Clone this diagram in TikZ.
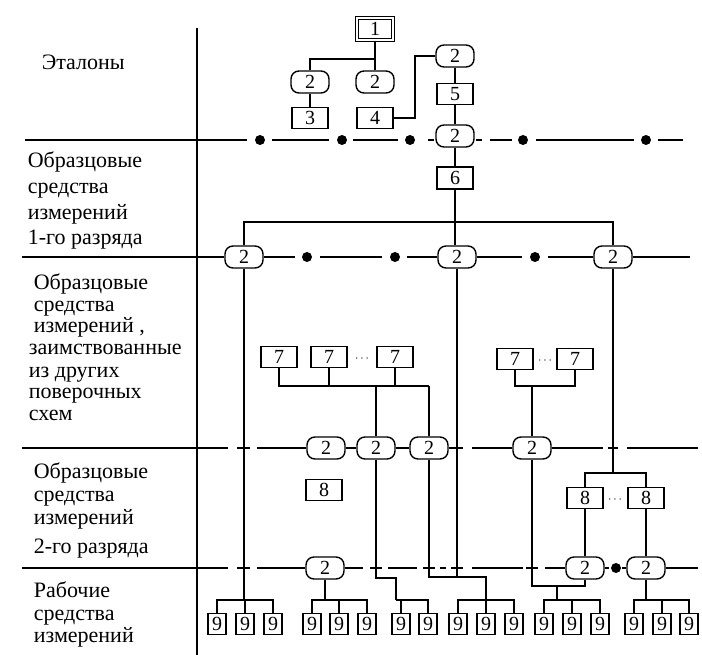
\documentclass[tikz,border=0pt]{standalone}
\usepackage{fontspec}
\setmainfont{Liberation Serif}
\usetikzlibrary{calc}

\begin{document}
\begin{tikzpicture}[x=1pt, y=-1pt, line width=1.7pt,
  box/.style={draw, line width=1.4pt, minimum width=36pt, minimum height=21pt, inner sep=0pt, font=\fontsize{20}{20}\selectfont},
  rbox/.style={box, rounded corners=8pt, minimum width=38pt, minimum height=22pt},
  nbox/.style={box, minimum width=18pt},
  dot/.style={circle, fill, inner sep=0pt, minimum size=10pt},
  lbl/.style={anchor=base west, inner sep=0pt, font=\fontsize{22}{22}\selectfont},
  more/.style={inner sep=0pt, font=\fontsize{12}{12}\selectfont}]
			%%%%% START %%%%%
			\useasboundingbox (0,0) rectangle (702,655);
			
			\draw (197,28) -- (197,655);
			
			% left column
			\node[lbl] (t-eta) at (41,70) {Эталоны};
			\foreach \y/\t in {168/Образцовые, 194/средства, 220/измерений, 245/1-го разряда}
				\node[lbl] (t-a\y) at (27,\y) {\t};
			\foreach \y/\t in {290/Образцовые, 312/средства, 333/{измерений ,}}
				\node[lbl] (t-b\y) at (33,\y) {\t};
			\foreach \y/\t in {355/заимствованные, 377/из других, 398/поверочных, 420/схем}
				\node[lbl] (t-b\y) at (28,\y) {\t};
			\foreach \y/\t in {478/Образцовые, 501/средства, 524/измерений, 553/2-го разряда}
				\node[lbl] (t-c\y) at (33,\y) {\t};
			\foreach \y/\t in {597/Рабочие, 620/средства, 642/измерений}
				\node[lbl] (t-d\y) at (33,\y) {\t};
			
			% etalons
			\node[box, double, double distance=2.5pt, line width=1.2pt, minimum height=22pt] (b1) at (375,29) {1};
			\node[rbox] (e2a) at (310,82) {2};
			\node[rbox] (e2b) at (375,82) {2};
			\node[box] (b3) at (310,118) {3};
			\node[box] (b4) at (375,118) {4};
			\node[rbox] (e2c) at (455,56) {2};
			\node[box] (b5) at (455,94) {5};
			\node[rbox] (l1c) at (455,136) {2};
			\node[box, minimum width=36pt, minimum height=22pt] (b6) at (455,178) {6};
			
			\coordinate (j1) at (375,59);
			\draw (b1) -- (e2b);
			\draw (e2a) |- (j1);
			\draw (e2a) -- (b3);
			\draw (b4.east) -- ++(21,0) |- (e2c);
			\draw (e2c) -- (b5) -- (l1c) -- (b6);
			
			% line 1
			\foreach \a/\b in {25/247, 272/329, 353/398, 490/512, 536/634, 658/683, 428/434, 476/482}
				\draw (\a,140) -- (\b,140);
			\foreach \x in {260,342,410,523,646}
				\node[dot] (d1-\x) at (\x,140) {};
			
			% line 2
			\node[rbox] (l2a) at (244,257) {2};
			\node[rbox] (l2b) at (457,257) {2};
			\node[rbox] (l2c) at (613,257) {2};
			\draw (b6) -- (b6 |- l2b.north);
			\draw (22,257) -- (l2a);
			\draw (l2a) -- (295,257);
			\draw (320,257) -- (382,257);
			\draw (407,257) -- (l2b);
			\draw (l2b) -- (522,257);
			\draw (548,257) -- (l2c);
			\draw (l2c) -- (690,257);
			\foreach \x in {307,395,535}
				\node[dot] (d2-\x) at (\x,257) {};
			\coordinate (s6) at (455,222);
			\draw (l2a) |- (s6) -| (l2c);
			
			% 7
			\node[box] (b7a) at (279,357) {7};
			\node[box] (b7b) at (329,357) {7};
			\node[box] (b7c) at (395,357) {7};
			\node[more] (p7a) at (362,359) {$\cdots$};
			\node[box] (b7d) at (515,359) {7};
			\node[box] (b7e) at (575,359) {7};
			\node[more] (p7b) at (545,361) {$\cdots$};
			
			% line 3
			\node[rbox] (l3a) at (326,448) {2};
			\node[rbox] (l3b) at (376,448) {2};
			\node[rbox] (l3c) at (429,448) {2};
			\node[rbox] (l3d) at (532,448) {2};
			\foreach \a/\b in {22/228, 237/250, 451/463, 608/618, 627/698}
				\draw (\a,448) -- (\b,448);
			\draw (257,448) -- (l3a);
			\draw (l3a) -- (l3b);
			\draw (l3b) -- (l3c);
			\draw (l3c.east) -- +(4,0);
			\draw (472,448) -- (l3d);
			\draw (l3d) -- (603,448);
			
			\coordinate (k7) at (429,386);
			\draw (b7a) |- (k7);
			\draw (b7b) |- (k7);
			\draw (b7c) |- (k7);
			\draw (l3c) -- (k7);
			\draw (l3b) -- (l3b |- k7);
			\coordinate (k7r) at (532,386);
			\draw (b7d) |- (k7r);
			\draw (b7e) |- (k7r);
			\draw (l3d) -- (k7r);
			
			% 8
			\node[box] (b8a) at (324,490) {8};
			\node[box] (b8b) at (585,498) {8};
			\node[box] (b8c) at (646,498) {8};
			\node[more] (p8) at (615,500) {$\cdots$};
			\coordinate (k8) at (613,473);
			\draw (l2c) -- (k8);
			\draw (b8b) |- (k8);
			\draw (b8c) |- (k8);
			
			% line 4
			\node[rbox] (l4a) at (325,568) {2};
			\node[rbox] (l4b) at (585,568) {2};
			\node[rbox] (l4c) at (646,568) {2};
			\node[dot] (d4) at (616,568) {};
			\foreach \a/\b in {22/228, 237/250, 370/382, 388/417, 423/435, 440/446, 451/463, 472/523, 526/538}
				\draw (\a,568) -- (\b,568);
			\draw (257,568) -- (l4a);
			\draw (l4a) -- (363,568);
			\draw (545,568) -- (l4b);
			\draw (l4b.east) -- +(4,0);
			\draw (l4c.west) -- +(-4,0);
			\draw (l4c) -- (698,568);
			\draw (b8b) -- (l4b);
			\draw (b8c) -- (l4c);
			
			% working instruments
			\foreach \x [count=\i] in {217,245,273,312,339,367,401,428,458,486,514,544,572,600,634,662,689}
				\node[nbox] (n\i) at (\x,624) {9};
			
			\coordinate (g1) at (244,600);
			\draw (l2a) -- (g1);
			\foreach \i in {1,2,3} \draw (n\i) |- (g1);
			
			\coordinate (g2) at (325,600);
			\draw (l4a) -- (g2);
			\foreach \i in {4,5,6} \draw (n\i) |- (g2);
			
			\coordinate (k3) at (396,578);
			\coordinate (g3) at (396,600);
			\draw (l3b) |- (k3) -- (g3);
			\foreach \i in {7,8} \draw (n\i) |- (g3);
			
			\coordinate (k4) at (486,577);
			\coordinate (g4) at (486,600);
			\draw (l3c) |- (k4) -- (g4);
			\draw (l2b) -- (l2b |- k4);
			\foreach \i in {9,10,11} \draw (n\i) |- (g4);
			
			\coordinate (k5) at (557,586);
			\coordinate (g5) at (557,600);
			\draw (l3d) |- (k5) -| (l4b);
			\draw (k5) -- (g5);
			\foreach \i in {12,13,14} \draw (n\i) |- (g5);
			
			\coordinate (g6) at (646,600);
			\draw (l4c) -- (g6);
			\foreach \i in {15,16,17} \draw (n\i) |- (g6);
			
			%%%%% END %%%%%
\end{tikzpicture}
\end{document}
